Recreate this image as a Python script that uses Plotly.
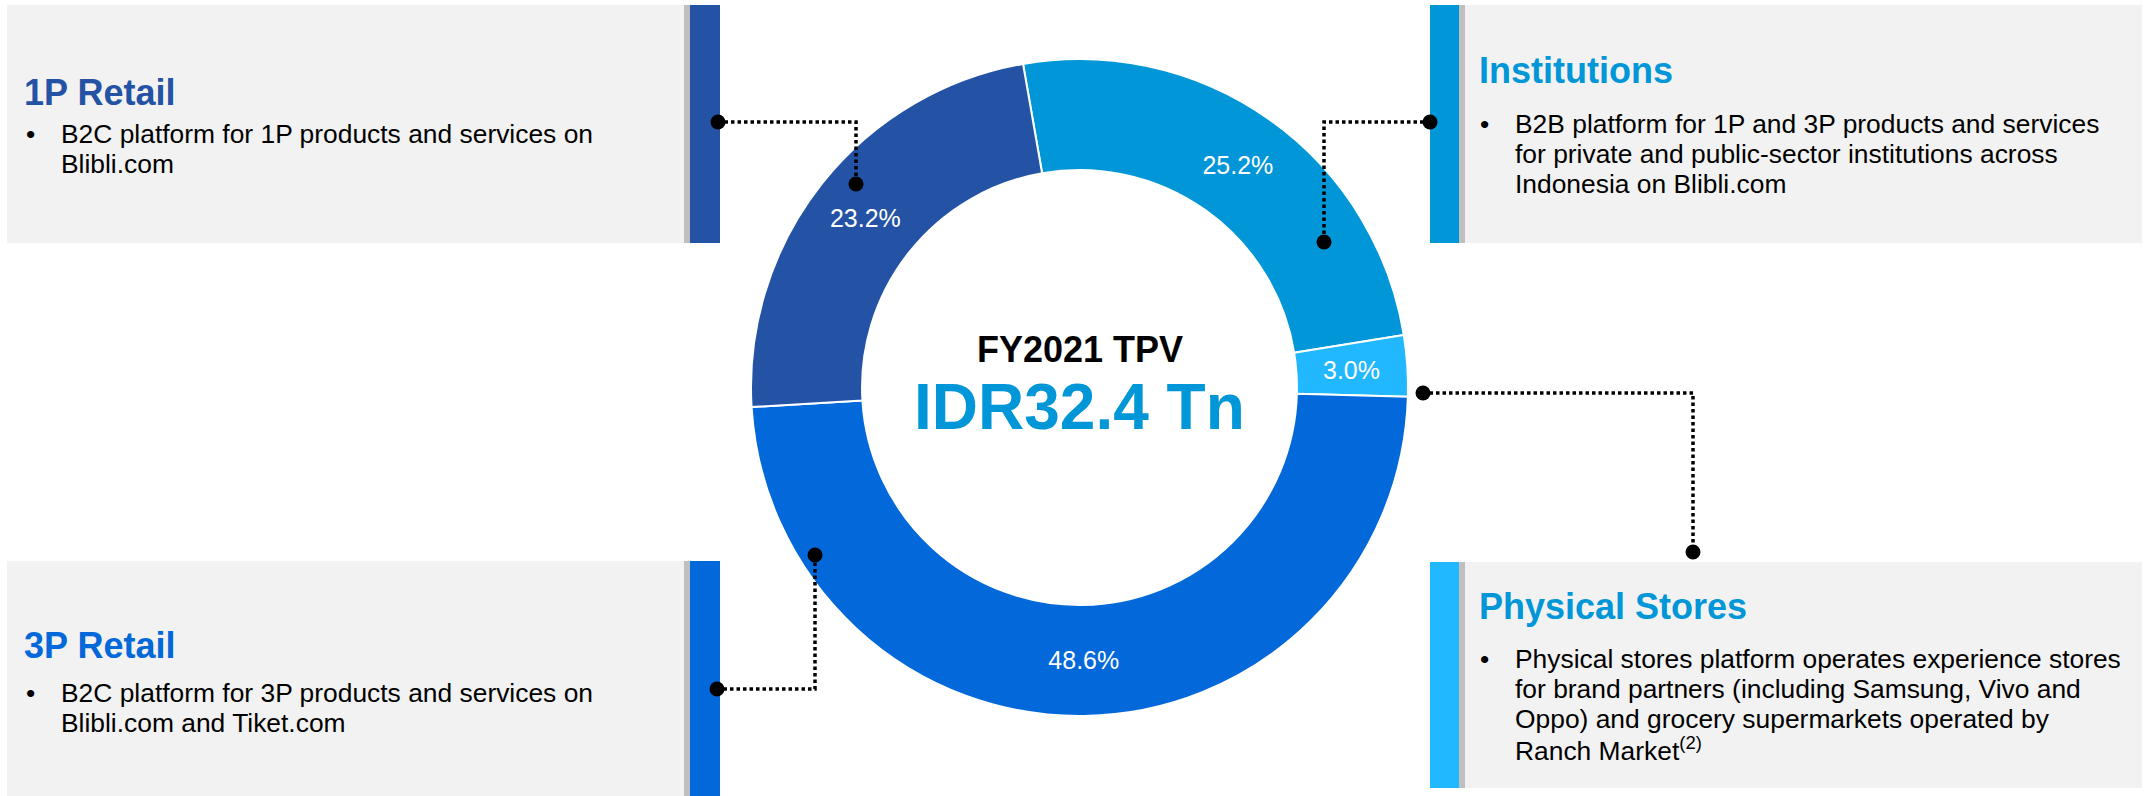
import math
import plotly.graph_objects as go

W, H = 2145, 796
FONT = "Liberation Sans, Arial, sans-serif"

# ---------------- data ----------------
segments = ["Institutions", "Physical Stores", "3P Retail", "1P Retail"]
shares = [25.2, 3.0, 48.6, 23.2]
seg_colors = ["#0096D7", "#21B8FF", "#0368D9", "#2453A6"]

center_title = "FY2021 TPV"
center_value = "IDR32.4 Tn"

title_colors = {
    "1P Retail": "#2453A6",
    "Institutions": "#0096D7",
    "3P Retail": "#0368D9",
    "Physical Stores": "#0096D7",
}
bodies = {
    "1P Retail": ["B2C platform for 1P products and services on", "Blibli.com"],
    "Institutions": ["B2B platform for 1P and 3P products and services",
                     "for private and public-sector institutions across",
                     "Indonesia on Blibli.com"],
    "3P Retail": ["B2C platform for 3P products and services on", "Blibli.com and Tiket.com"],
    "Physical Stores": ["Physical stores platform operates experience stores",
                        "for brand partners (including Samsung, Vivo and",
                        "Oppo) and grocery supermarkets operated by",
                        "Ranch Market<sup>(2)</sup>"],
}

# ---------------- layout geometry (pixels) ----------------
panels = {
    "1P Retail": dict(box=(7, 5, 684, 243), strip=(684, 690), bar=(690, 720),
                      title=(22, 105), bullet_x=24, text_x=59, base0=143,
                      path=[(718, 122), (856, 122), (856, 184)]),
    "Institutions": dict(box=(1465, 5, 2142, 243), strip=(1459, 1465), bar=(1430, 1459),
                         title=(1477, 83), bullet_x=1478, text_x=1513, base0=133,
                         path=[(1430, 122), (1324, 122), (1324, 242)]),
    "3P Retail": dict(box=(7, 561, 684, 796), strip=(684, 690), bar=(690, 720),
                      title=(22, 658), bullet_x=24, text_x=59, base0=702,
                      path=[(717, 689), (815, 689), (815, 555)]),
    "Physical Stores": dict(box=(1465, 562, 2142, 788), strip=(1459, 1465), bar=(1430, 1459),
                            title=(1477, 619), bullet_x=1478, text_x=1513, base0=668,
                            path=[(1423, 393), (1693, 393), (1693, 552)]),
}
LINE_H = 30
TITLE_SIZE = 36
BODY_SIZE = 26.4
LABEL_SIZE = 25
ROTATION = -9.9
HOLE = 0.662
# slices whose label plotly would push to the rim are labelled at mid-ring instead
ring_labelled = {"Physical Stores"}

CX, CY, R = 1079.5, 387.5, 328.5


def px(x):
    return x / W


def py(y):
    return 1 - y / H


slice_text = [f"{v:.1f}%" for v in shares]
slice_textpos = ["none" if s in ring_labelled else "inside" for s in segments]

fig = go.Figure()

fig.add_trace(go.Pie(
    labels=segments,
    values=shares,
    text=slice_text,
    sort=False,
    direction="clockwise",
    rotation=ROTATION,
    hole=HOLE,
    marker=dict(colors=seg_colors, line=dict(color="white", width=2)),
    textinfo="text",
    textposition=slice_textpos,
    insidetextorientation="horizontal",
    textfont=dict(family=FONT, size=LABEL_SIZE, color="white"),
    hoverinfo="skip",
    showlegend=False,
    domain=dict(x=[px(CX - R), px(CX + R)], y=[py(CY + R), py(CY - R)]),
))

shapes = []
annotations = []

# mid-ring labels for thin slices (angle derived from the shares)
total = sum(shares)
start = ROTATION
r_mid = R * (1 + HOLE) / 2
for s, v in zip(segments, shares):
    sweep = 360 * v / total
    if s in ring_labelled:
        a = math.radians(start + sweep / 2)
        annotations.append(dict(xref="paper", yref="paper",
                                x=px(CX + r_mid * math.sin(a)), y=py(CY - r_mid * math.cos(a)),
                                xanchor="center", yanchor="middle", showarrow=False,
                                text=f"{v:.1f}%",
                                font=dict(family=FONT, size=LABEL_SIZE, color="white")))
    start += sweep

for name, p in panels.items():
    x0, y0, x1, y1 = p["box"]
    shapes.append(dict(type="rect", xref="paper", yref="paper", layer="below",
                       x0=px(x0), x1=px(x1), y0=py(y1), y1=py(y0),
                       fillcolor="#F2F2F2", line=dict(width=0)))
    shapes.append(dict(type="rect", xref="paper", yref="paper", layer="below",
                       x0=px(p["strip"][0]), x1=px(p["strip"][1]), y0=py(y1), y1=py(y0),
                       fillcolor="#BFBFBF", line=dict(width=0)))
    bar_color = seg_colors[segments.index(name)]
    shapes.append(dict(type="rect", xref="paper", yref="paper", layer="below",
                       x0=px(p["bar"][0]), x1=px(p["bar"][1]), y0=py(y1), y1=py(y0),
                       fillcolor=bar_color, line=dict(width=0)))
    # connector
    pts = p["path"]
    d = "M " + " L ".join(f"{px(a)},{py(b)}" for a, b in pts)
    shapes.append(dict(type="path", xref="paper", yref="paper", path=d,
                       line=dict(color="black", width=3.5, dash="3.5px,3px")))
    for (a, b) in (pts[0], pts[-1]):
        rr = 7.5
        shapes.append(dict(type="circle", xref="paper", yref="paper",
                           x0=px(a - rr), x1=px(a + rr), y0=py(b + rr), y1=py(b - rr),
                           fillcolor="black", line=dict(width=0)))
    # title
    tx, tb = p["title"]
    annotations.append(dict(xref="paper", yref="paper", x=px(tx), y=py(tb - 0.35 * TITLE_SIZE),
                            xanchor="left", yanchor="middle", showarrow=False,
                            text=f"<b>{name}</b>",
                            font=dict(family=FONT, size=TITLE_SIZE, color=title_colors[name])))
    # body
    for i, line in enumerate(bodies[name]):
        yb = p["base0"] + i * LINE_H
        ym = py(yb - 0.35 * BODY_SIZE)
        if i == 0:
            annotations.append(dict(xref="paper", yref="paper", x=px(p["bullet_x"]), y=ym,
                                    xanchor="left", yanchor="middle", showarrow=False,
                                    text="•", font=dict(family=FONT, size=BODY_SIZE, color="black")))
        annotations.append(dict(xref="paper", yref="paper", x=px(p["text_x"]), y=ym,
                                xanchor="left", yanchor="middle", showarrow=False,
                                text=line, font=dict(family=FONT, size=BODY_SIZE, color="black")))

annotations.append(dict(xref="paper", yref="paper", x=px(CX), y=py(362 - 0.35 * 36),
                        xanchor="center", yanchor="middle", showarrow=False,
                        text=f"<b>{center_title}</b>",
                        font=dict(family=FONT, size=36, color="black")))
annotations.append(dict(xref="paper", yref="paper", x=px(CX), y=py(429 - 0.35 * 64),
                        xanchor="center", yanchor="middle", showarrow=False,
                        text=f"<b>{center_value}</b>",
                        font=dict(family=FONT, size=64, color="#0096D7")))

fig.update_layout(
    width=W, height=H,
    margin=dict(l=0, r=0, t=0, b=0),
    paper_bgcolor="white",
    plot_bgcolor="white",
    shapes=shapes,
    annotations=annotations,
    uniformtext=dict(minsize=LABEL_SIZE, mode="show"),
)

fig.write_html("out.html")
